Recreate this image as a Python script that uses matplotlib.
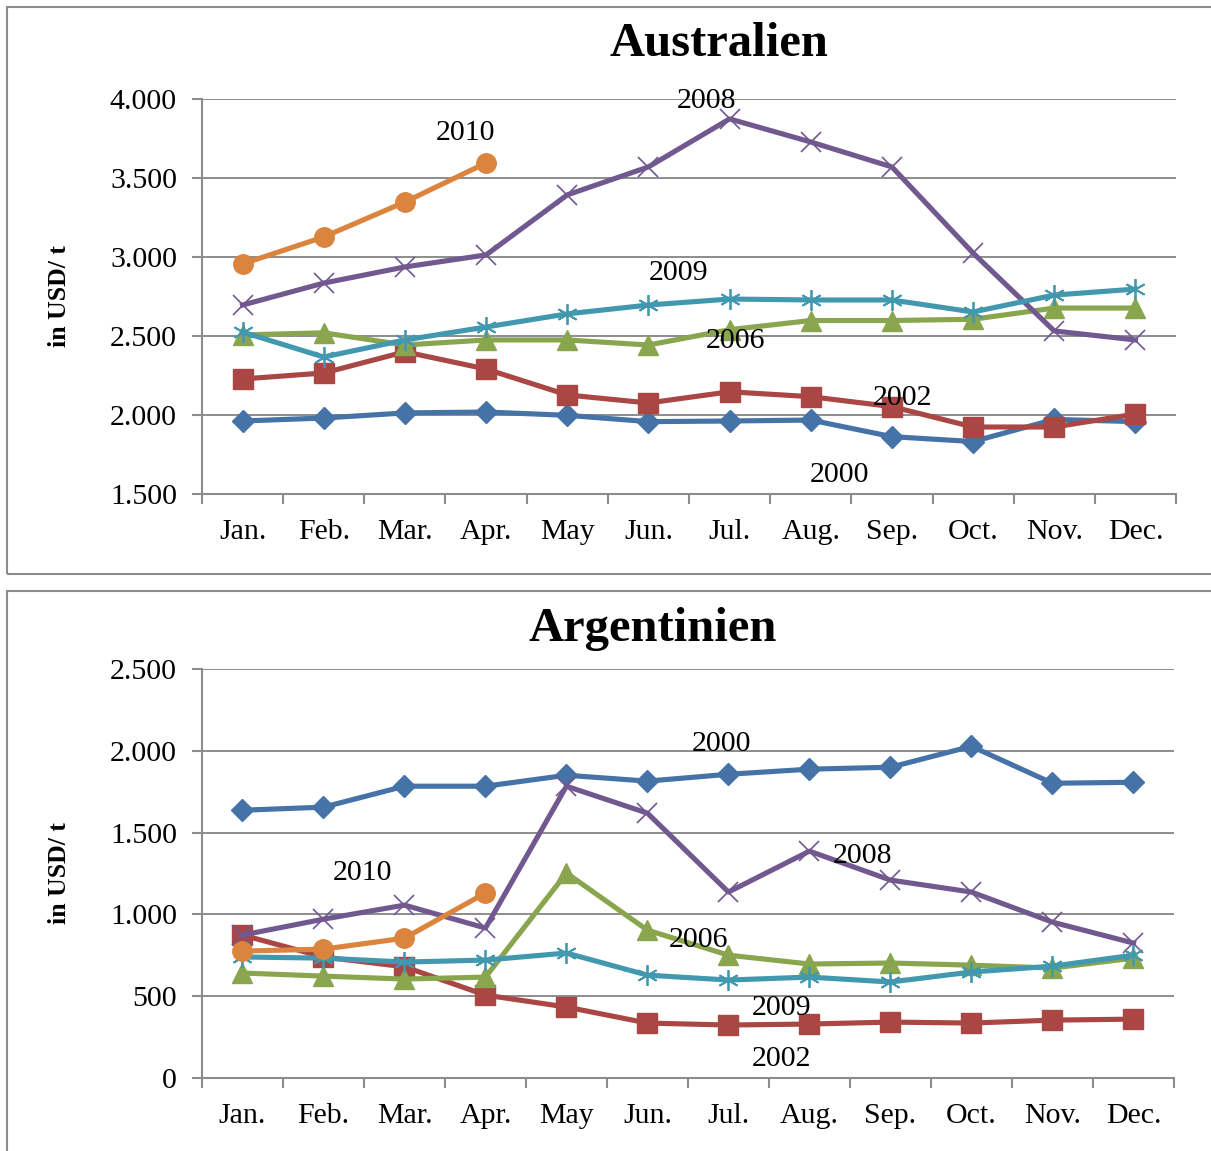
import matplotlib.pyplot as plt
from matplotlib.patches import Rectangle

months = ['Jan.', 'Feb.', 'Mar.', 'Apr.', 'May', 'Jun.', 'Jul.', 'Aug.', 'Sep.', 'Oct.', 'Nov.', 'Dec.']
years = ['2000', '2002', '2006', '2008', '2009', '2010']

# Australien, USD/t
aus_2000 = [1962, 1981, 2013, 2019, 1998, 1958, 1962, 1968, 1863, 1832, 1972, 1958]
aus_2002 = [2228, 2266, 2400, 2291, 2127, 2076, 2147, 2116, 2053, 1924, 1924, 2006]
aus_2006 = [2507, 2520, 2443, 2475, 2475, 2443, 2540, 2598, 2598, 2606, 2677, 2677]
aus_2008 = [2696, 2835, 2937, 3013, 3393, 3570, 3874, 3728, 3570, 3025, 2532, 2475]
aus_2009 = [2525, 2367, 2475, 2557, 2640, 2696, 2734, 2728, 2728, 2652, 2759, 2797]
aus_2010 = [2956, 3127, 3348, 3595]

# Argentinien, USD/t
arg_2000 = [1637, 1656, 1784, 1784, 1851, 1815, 1857, 1888, 1900, 2028, 1802, 1808]
arg_2002 = [874, 740, 680, 507, 434, 336, 324, 330, 342, 336, 354, 360]
arg_2006 = [642, 623, 605, 617, 1253, 904, 751, 697, 703, 690, 672, 733]
arg_2008 = [874, 971, 1057, 917, 1784, 1619, 1137, 1387, 1210, 1137, 953, 825]
arg_2009 = [740, 733, 709, 721, 764, 629, 599, 617, 587, 648, 684, 751]
arg_2010 = [776, 788, 855, 1131]

colors = ['#4572A7', '#AA4643', '#89A54E', '#71588F', '#4198AF', '#DB843D']
markers = ['D', 's', '^', 'x', (6, 2, 0), 'o']
msizes = [11.5, 14, 14, 15, 15, 14]
mews = [1, 1, 1, 1.2, 1.3, 1]

plt.rcParams['font.family'] = ['Liberation Serif', 'DejaVu Serif']

fig = plt.figure(figsize=(12.11, 11.51), dpi=100)

# outer chart frames
fig.patches.append(Rectangle((0.0058, 0.5013), 1.1, 0.4926, transform=fig.transFigure,
                             fill=False, edgecolor='#8c8c8c', linewidth=1.5))
fig.patches.append(Rectangle((0.0058, -0.1), 1.1, 0.5865, transform=fig.transFigure,
                             fill=False, edgecolor='#8c8c8c', linewidth=1.5))


def draw(ax, series, ylim, step, title, labels, title_x, title_y):
    for i, s in enumerate(series):
        ax.plot(range(len(s)), s, color=colors[i], linewidth=3.7, marker=markers[i],
                markersize=msizes[i], markeredgewidth=mews[i],
                markerfacecolor=colors[i], markeredgecolor=colors[i], zorder=3 + i)
    ax.set_xlim(-0.5, 11.5)
    ax.set_ylim(*ylim)
    yt = list(range(ylim[0], ylim[1] + 1, step))
    ax.set_yticks(yt)
    ax.set_yticklabels([f'{v:,}'.replace(',', '.') for v in yt], fontsize=21.5)
    ax.set_xticks([i - 0.5 for i in range(13)])
    ax.set_xticklabels([])
    ax.set_xticks(range(12), minor=True)
    ax.set_xticklabels(months, minor=True, fontsize=21.5)
    ax.tick_params(axis='x', which='minor', length=0, pad=18)
    ax.tick_params(axis='x', which='major', length=7, width=1.5, color='#8c8c8c', direction='out')
    ax.tick_params(axis='y', length=7, width=1.5, color='#8c8c8c', direction='out', pad=11)
    ax.grid(axis='y', color='#8c8c8c', linewidth=1.4)
    ax.set_axisbelow(True)
    for side in ['top', 'right']:
        ax.spines[side].set_visible(False)
    for side in ['left', 'bottom']:
        ax.spines[side].set_color('#8c8c8c')
        ax.spines[side].set_linewidth(1.5)
    ax.set_ylabel('in USD/ t', fontsize=18.5, fontweight='bold', labelpad=28)
    fig.text(title_x, title_y, title, fontsize=35, fontweight='bold', ha='center', va='center')
    for txt, x, y in labels:
        ax.text(x, y, txt, fontsize=21.5, ha='center', va='center', zorder=20)


ax1 = fig.add_axes([0.1668, 0.5708, 0.8043, 0.3432])
draw(ax1, [aus_2000, aus_2002, aus_2006, aus_2008, aus_2009, aus_2010], (1500, 4000), 500,
     'Australien',
     [('2010', 2.75, 3785), ('2008', 5.71, 3985), ('2009', 5.37, 2900),
      ('2006', 6.07, 2470), ('2002', 8.13, 2110), ('2000', 7.36, 1622)],
     0.594, 0.9618)

ax2 = fig.add_axes([0.1668, 0.0634, 0.8026, 0.3553])
draw(ax2, [arg_2000, arg_2002, arg_2006, arg_2008, arg_2009, arg_2010], (0, 2500), 500,
     'Argentinien',
     [('2000', 5.91, 2042), ('2008', 7.65, 1358), ('2010', 1.48, 1254),
      ('2006', 5.63, 845), ('2009', 6.65, 430), ('2002', 6.65, 117)],
     0.5393, 0.4535)

fig.savefig('out.png', dpi=100)
